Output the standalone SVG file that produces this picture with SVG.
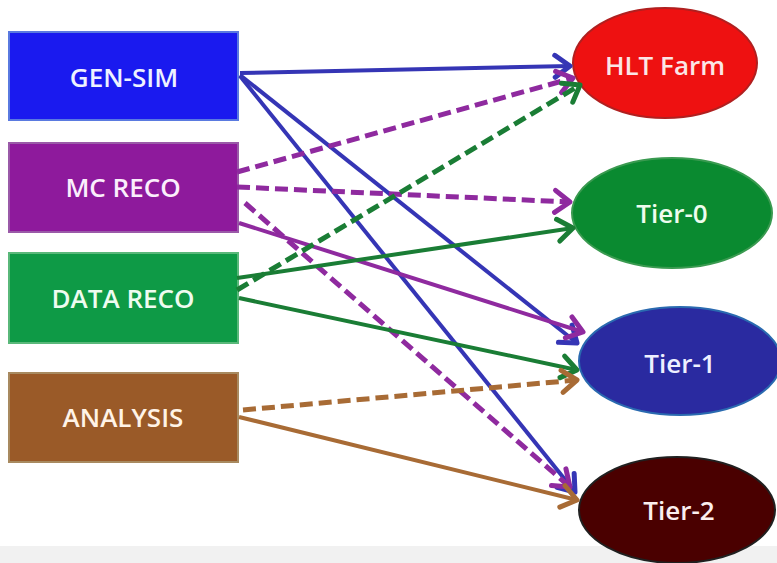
<svg xmlns="http://www.w3.org/2000/svg" width="777" height="563" viewBox="0 0 777 563">
<defs>
<style>
.lbl{font-family:"Open Sans","Liberation Sans",sans-serif;font-weight:600;font-size:26px;text-anchor:middle;}
.box{stroke-width:2;}
.ln{fill:none;stroke-width:4;stroke-linecap:butt;}
.ds{stroke-dasharray:13 6;stroke-width:5;}
</style>
<marker id="mb" markerUnits="userSpaceOnUse" markerWidth="30" markerHeight="30" refX="0" refY="0" viewBox="-20 -15 25 30" orient="auto"><path d="M-15,-11 L0,0 L-15,11" fill="none" stroke="#3535b5" stroke-width="5" stroke-linejoin="round" stroke-linecap="round"/></marker>
<marker id="mp" markerUnits="userSpaceOnUse" markerWidth="30" markerHeight="30" refX="0" refY="0" viewBox="-20 -15 25 30" orient="auto"><path d="M-15,-11 L0,0 L-15,11" fill="none" stroke="#8f2a9f" stroke-width="5" stroke-linejoin="round" stroke-linecap="round"/></marker>
<marker id="mg" markerUnits="userSpaceOnUse" markerWidth="30" markerHeight="30" refX="0" refY="0" viewBox="-20 -15 25 30" orient="auto"><path d="M-15,-11 L0,0 L-15,11" fill="none" stroke="#1a7d35" stroke-width="5" stroke-linejoin="round" stroke-linecap="round"/></marker>
<marker id="mn" markerUnits="userSpaceOnUse" markerWidth="30" markerHeight="30" refX="0" refY="0" viewBox="-20 -15 25 30" orient="auto"><path d="M-15,-11 L0,0 L-15,11" fill="none" stroke="#a86b35" stroke-width="5" stroke-linejoin="round" stroke-linecap="round"/></marker>
</defs>
<rect x="0" y="0" width="777" height="563" fill="#ffffff"/>
<rect x="0" y="546" width="777" height="17" fill="#f1f1f1"/>

<g id="gen-sim"><rect class="box" x="9" y="32" width="229" height="88" fill="#1a1aef" stroke="#5a7ae0"/><text class="lbl" x="124" y="87" fill="#eef2ff">GEN-SIM</text></g>
<g id="mc-reco"><rect class="box" x="9" y="143" width="229" height="89" fill="#8e1a9c" stroke="#9a5aa8"/><text class="lbl" x="123" y="197" fill="#fbeefc">MC RECO</text></g>
<g id="data-reco"><rect class="box" x="9" y="253" width="229" height="90" fill="#0e9a46" stroke="#5ab87a"/><text class="lbl" x="123" y="308" fill="#eefcf0">DATA RECO</text></g>
<g id="analysis"><rect class="box" x="9" y="373" width="229" height="89" fill="#9a5a28" stroke="#a88a60"/><text class="lbl" x="123" y="427" fill="#fff3e6">ANALYSIS</text></g>

<g id="hlt-farm"><ellipse cx="665" cy="63" rx="92" ry="55" fill="#ee1111" stroke="#b02020" stroke-width="2"/><text class="lbl" x="665" y="75" fill="#fbe6e6">HLT Farm</text></g>
<g id="tier-0"><ellipse cx="672" cy="213" rx="100" ry="55" fill="#0a8a30" stroke="#3a9a50" stroke-width="2"/><text class="lbl" x="672" y="223" fill="#eefcee">Tier-0</text></g>
<g id="tier-1"><ellipse cx="680" cy="361" rx="101" ry="54" fill="#2a2aa0" stroke="#2a6ab0" stroke-width="2"/><text class="lbl" x="680" y="373" fill="#eef0ff">Tier-1</text></g>
<g id="tier-2"><ellipse cx="677" cy="510" rx="98" ry="53" fill="#4a0000" stroke="#202020" stroke-width="2"/><text class="lbl" x="679" y="520" fill="#fbeeee">Tier-2</text></g>

<g id="connectors">
<path class="ln" d="M240,73 L570,66" stroke="#3535b5" marker-end="url(#mb)"/>
<path class="ln" d="M240,75 L577,343" stroke="#3535b5" marker-end="url(#mb)"/>
<path class="ln" d="M240,76 L575,492" stroke="#3535b5" marker-end="url(#mb)"/>
<path class="ln ds" d="M237,172 L573,78" stroke="#8f2a9f" marker-end="url(#mp)"/>
<path class="ln ds" d="M237,187 L570,202" stroke="#8f2a9f" marker-end="url(#mp)"/>
<path class="ln ds" d="M245,203 L570,487" stroke="#8f2a9f" marker-end="url(#mp)"/>
<path class="ln" d="M239,223 L583,332" stroke="#8f2a9f" marker-end="url(#mp)"/>
<path class="ln ds" d="M237,290 L580,85" stroke="#1a7d35" marker-end="url(#mg)"/>
<path class="ln" d="M237,278 L573,228" stroke="#1a7d35" marker-end="url(#mg)"/>
<path class="ln" d="M239,298 L577,370" stroke="#1a7d35" marker-end="url(#mg)"/>
<path class="ln ds" d="M243,410 L577,380" stroke="#a86b35" marker-end="url(#mn)"/>
<path class="ln" d="M239,417 L577,500" stroke="#a86b35" marker-end="url(#mn)"/>
</g>
</svg>
